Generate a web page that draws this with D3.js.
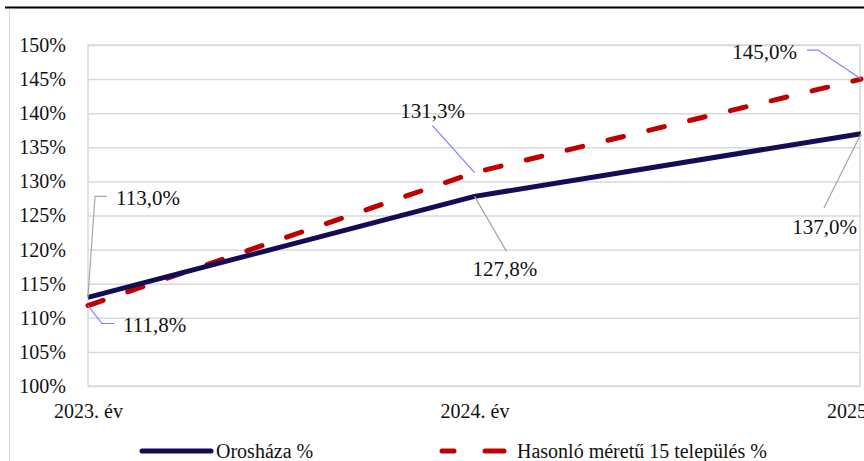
<!DOCTYPE html>
<html>
<head>
<meta charset="utf-8">
<script src="https://d3js.org/d3.v7.min.js"></script>
<style>
  body { margin: 0; background: #fff; }
</style>
</head>
<body>
<svg id="chart" width="864" height="461"></svg>
<script>
  // data
  var categories = ["2023. év", "2024. év", "2025. év"];
  var oroshaza = [113.0, 127.8, 137.0];
  var hasonlo = [111.8, 131.3, 145.0];
  var yTicks = [100, 105, 110, 115, 120, 125, 130, 135, 140, 145, 150];
  var seriesNames = ["Orosháza %", "Hasonló méretű 15 település %"];

  var FONT = "'Liberation Serif', 'Times New Roman', serif";
  var svg = d3.select("#chart");
  var fmt = function(v) { return d3.format(".1f")(v).replace(".", ",") + "%"; };

  var plotL = 88, plotR = 861, plotT = 45, plotB = 386;

  var x = d3.scalePoint().domain(categories).range([plotL, plotR]);
  var y = d3.scaleLinear().domain([100, 150]).range([plotB, plotT]);

  // chart frame bits (title is cropped off above)
  svg.append("line").attr("x1", 5).attr("x2", 864).attr("y1", 7.5).attr("y2", 7.5)
    .attr("stroke", "#000").attr("stroke-width", 2);
  svg.append("line").attr("x1", 9.5).attr("x2", 9.5).attr("y1", 9).attr("y2", 461)
    .attr("stroke", "#d9d9d9").attr("stroke-width", 1);

  // gridlines
  var grid = svg.append("g")
    .attr("transform", "translate(" + plotL + ",0)")
    .call(d3.axisLeft(y).tickValues(yTicks).tickSize(-(plotR - 1 - plotL)).tickFormat(""));
  grid.select(".domain").remove();
  grid.selectAll("line").attr("stroke", "#d9d9d9").attr("stroke-width", 1.5);

  // plot border
  svg.append("rect").attr("x", plotL).attr("y", plotT).attr("width", plotR - 1 - plotL).attr("height", plotB - plotT)
    .attr("fill", "none").attr("stroke", "#d9d9d9").attr("stroke-width", 1.5);

  // y labels
  var yAxis = svg.append("g")
    .attr("transform", "translate(66,0)")
    .call(d3.axisLeft(y).tickValues(yTicks).tickSize(0).tickPadding(0).tickFormat(function(d) { return d + "%"; }));
  yAxis.attr("font-family", FONT).attr("font-size", 20);
  yAxis.select(".domain").remove();
  yAxis.selectAll("text").attr("fill", "#111");

  // x labels
  var xAxis = svg.append("g")
    .attr("transform", "translate(0,400)")
    .call(d3.axisBottom(x).tickSize(0).tickPadding(0));
  xAxis.attr("font-family", FONT).attr("font-size", 20);
  xAxis.select(".domain").remove();
  xAxis.selectAll("text").attr("fill", "#111").attr("dy", "0.9em");

  var line = d3.line()
    .x(function(d, i) { return x(categories[i]); })
    .y(function(d) { return y(d); });

  svg.append("path").datum(hasonlo)
    .attr("fill", "none").attr("stroke", "#c00000").attr("stroke-width", 5)
    .attr("stroke-dasharray", "16,26").attr("stroke-linecap", "round")
    .attr("d", line);

  svg.append("path").datum(oroshaza)
    .attr("fill", "none").attr("stroke", "#120d55").attr("stroke-width", 5)
    .attr("stroke-linejoin", "round")
    .attr("d", line);

  // data labels: text offset and leader line relative to the point
  var oroLabels = [
    { dx: 28, dy: -100, anchor: "start", leader: [[0, 0], [7, -101], [19, -101]] },
    { dx: -2, dy: 72, anchor: "start", leader: [[0, 0], [32, 55]] },
    { dx: -4, dy: 93, anchor: "end", leader: [[0, 0], [-37, 74]] }
  ];
  var hasLabels = [
    { dx: 35, dy: 19, anchor: "start", leader: [[0, 0], [14, 18], [26, 18]] },
    { dx: -42, dy: -62, anchor: "middle", leader: [[-42, -47], [0, 0]] },
    { dx: -64, dy: -27, anchor: "end", leader: [[-54, -29], [-43, -29], [0, 0]] }
  ];

  function drawLabels(values, labels, leaderColor) {
    values.forEach(function(v, i) {
      var px = x(categories[i]), py = y(v), lab = labels[i];
      svg.append("path")
        .attr("d", d3.line()(lab.leader.map(function(p) { return [px + p[0], py + p[1]]; })))
        .attr("fill", "none").attr("stroke", leaderColor).attr("stroke-width", 1.2);
      svg.append("text")
        .attr("x", px + lab.dx).attr("y", py + lab.dy)
        .attr("text-anchor", lab.anchor)
        .attr("dy", "0.35em")
        .attr("font-size", 21).attr("font-family", FONT).attr("fill", "#111")
        .text(fmt(v));
    });
  }
  drawLabels(oroshaza, oroLabels, "#a6a6a6");
  drawLabels(hasonlo, hasLabels, "#8080ff");

  // legend
  var ly = 451;
  svg.append("line").attr("x1", 142).attr("x2", 211).attr("y1", ly).attr("y2", ly)
    .attr("stroke", "#120d55").attr("stroke-width", 5).attr("stroke-linecap", "round");
  svg.append("text").attr("x", 216).attr("y", ly).attr("dy", "0.35em")
    .attr("font-size", 20).attr("font-family", FONT).attr("fill", "#111").text(seriesNames[0]);
  svg.append("line").attr("x1", 442).attr("x2", 454).attr("y1", ly).attr("y2", ly)
    .attr("stroke", "#c00000").attr("stroke-width", 5).attr("stroke-linecap", "round");
  svg.append("line").attr("x1", 485).attr("x2", 504).attr("y1", ly).attr("y2", ly)
    .attr("stroke", "#c00000").attr("stroke-width", 5).attr("stroke-linecap", "round");
  svg.append("text").attr("x", 517).attr("y", ly).attr("dy", "0.35em")
    .attr("font-size", 20).attr("font-family", FONT).attr("fill", "#111").text(seriesNames[1]);
</script>
</body>
</html>
